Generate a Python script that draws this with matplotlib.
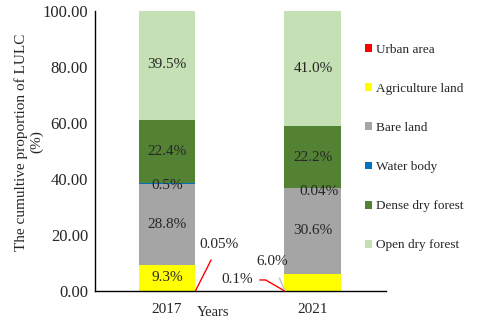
import matplotlib
matplotlib.use('Agg')
import matplotlib.pyplot as plt
from matplotlib.patches import Patch
import numpy as np

plt.rcParams['font.family'] = ['Liberation Serif', 'DejaVu Serif']

years = ['2017', '2021']
classes = ['Urban area', 'Agriculture land', 'Bare land', 'Water body',
           'Dense dry forest', 'Open dry forest']
urban = [0.05, 0.1]
agri = [9.3, 6.0]
bare = [28.8, 30.6]
water = [0.5, 0.04]
dense = [22.4, 22.2]
open_forest = [39.5, 41.0]
colors = ['#FF0000', '#FFFF00', '#A5A5A5', '#0070C0', '#548235', '#C5E0B4']

series = [urban, agri, bare, water, dense, open_forest]

fig = plt.figure(figsize=(4.8, 3.25), dpi=100)
ax = fig.add_axes([0.198, 0.105, 0.606, 0.861])

x = np.arange(len(years))
w = 0.39
bottom = np.zeros(len(years))
bottoms = []
for vals, c in zip(series, colors):
    ax.bar(x, vals, w, bottom=bottom, color=c, linewidth=0)
    bottoms.append(bottom.copy())
    bottom = bottom + np.array(vals)

tc = '#262626'
fs = 11
# labels inside the big segments
for k in [1, 2, 4, 5]:
    for i in range(len(years)):
        if k == 1 and i == 1:
            continue
        v = series[k][i]
        ax.text(x[i], bottoms[k][i] + v / 2, f'{v:.1f}%', ha='center', va='center',
                fontsize=fs, color=tc)
# water body labels just above the bare-land segment
ax.text(x[0], bottoms[3][0] - 0.5, '0.5%', ha='center', va='center', fontsize=fs, color=tc)
ax.text(x[1] + 0.04, bottoms[3][1] - 1.3, '0.04%', ha='center', va='center', fontsize=fs, color=tc)

# leader-line labels
ax.annotate('0.05%', xy=(x[0] + w / 2, 0), xytext=(0.356, 16.6), ha='center', va='center',
            fontsize=fs, color=tc,
            arrowprops=dict(arrowstyle='-', color='#FF0000', lw=1.0, shrinkA=5, shrinkB=0))
ax.annotate('0.1%', xy=(x[1] - w / 2, 0), xytext=(0.48, 3.9), ha='center', va='center',
            fontsize=fs, color=tc,
            arrowprops=dict(arrowstyle='-', color='#FF0000', lw=1.0, shrinkA=3, shrinkB=0,
                            connectionstyle='angle,angleA=0,angleB=150,rad=0'))
ax.annotate('6.0%', xy=(x[1] - w / 2, 0.4), xytext=(0.72, 10.6), ha='center', va='center',
            fontsize=fs, color=tc,
            arrowprops=dict(arrowstyle='-', color='#BFBFBF', lw=1.0, shrinkA=6, shrinkB=0))

ax.set_xlim(-0.493, 1.5)
ax.set_ylim(0, 100)
ax.set_xticks(x)
ax.set_xticklabels(years, fontsize=11, color=tc)
ax.set_yticks(np.arange(0, 101, 20))
ax.set_yticklabels([f'{t:.2f}' for t in np.arange(0, 101, 20)], fontsize=12, color=tc)
ax.tick_params(length=0, pad=5)
ax.tick_params(axis='x', pad=9)
for s in ['top', 'right']:
    ax.spines[s].set_visible(False)
for s in ['left', 'bottom']:
    ax.spines[s].set_color('#000000')
    ax.spines[s].set_linewidth(1.0)

ax.set_ylabel('The cumultive proportion of LULC\n(%)', fontsize=11, color=tc,
              linespacing=1.15)
ax.yaxis.set_label_coords(-0.179, 0.532)
fig.text(213 / 480, 1 - 312 / 325, 'Years', ha='center', va='center', fontsize=10.5, color=tc)

handles = [Patch(facecolor=c, edgecolor='none') for c in colors]
fig.legend(handles, classes, loc='upper left', bbox_to_anchor=(365 / 480, 1 - 44 / 325),
           frameon=False, fontsize=9.5, handlelength=0.55, handleheight=0.55,
           handletextpad=0.3, labelspacing=2.05, borderaxespad=0, borderpad=0,
           labelcolor=tc)

fig.savefig('out.png', dpi=100)
